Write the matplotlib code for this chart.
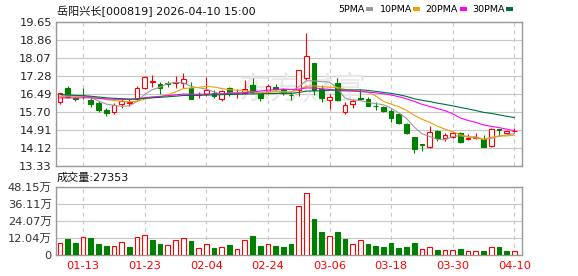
import numpy as np
import matplotlib
matplotlib.use("Agg")
import matplotlib.pyplot as plt
from matplotlib.patches import Rectangle

# trading days shown (2026)
dates = ['01-08', '01-09', '01-12', '01-13', '01-14', '01-15', '01-16', '01-19', '01-20', '01-21',
         '01-22', '01-23', '01-26', '01-27', '01-28', '01-29', '01-30', '02-02', '02-03', '02-04',
         '02-05', '02-06', '02-09', '02-10', '02-11', '02-12', '02-13', '02-24', '02-25', '02-26',
         '02-27', '03-02', '03-03', '03-04', '03-05', '03-06', '03-09', '03-10', '03-11', '03-12',
         '03-13', '03-16', '03-17', '03-18', '03-19', '03-20', '03-23', '03-24', '03-25', '03-26',
         '03-27', '03-30', '03-31', '04-01', '04-02', '04-03', '04-07', '04-08', '04-09', '04-10']

opens = [16.15, 16.75, 16.30, 16.46, 16.24, 16.11, 15.79, 15.71, 16.06, 16.08,
         16.27, 16.77, 17.03, 16.93, 16.98, 16.97, 16.99, 16.74, 16.43, 16.48,
         16.55, 16.26, 16.74, 16.53, 16.55, 16.88, 16.52, 16.62, 16.78, 16.70,
         16.46, 16.67, 17.18, 17.87, 16.70, 16.21, 16.96, 15.71, 16.04, 16.30,
         16.26, 15.98, 15.93, 15.74, 15.60, 15.17, 14.59, 14.29, 14.18, 14.87,
         14.55, 14.62, 14.77, 14.50, 14.57, 14.50, 14.22, 14.94, 14.77, 14.86]
highs = [16.52, 16.85, 16.36, 16.75, 16.33, 16.20, 15.89, 16.08, 16.26, 16.25,
         16.83, 17.27, 17.34, 17.02, 17.05, 17.28, 17.40, 17.03, 16.59, 17.25,
         16.66, 16.66, 16.78, 16.70, 17.11, 17.18, 16.55, 16.93, 16.93, 16.74,
         16.59, 17.53, 19.18, 17.87, 16.89, 16.48, 17.18, 16.13, 16.28, 16.70,
         16.37, 16.14, 15.96, 15.84, 15.64, 15.20, 14.62, 14.30, 15.09, 14.91,
         14.79, 14.84, 14.84, 14.72, 14.80, 14.69, 15.01, 14.94, 14.88, 15.01]
lows = [16.06, 16.33, 16.20, 16.27, 15.93, 15.71, 15.54, 15.63, 15.89, 15.95,
        16.20, 16.73, 16.81, 16.48, 16.78, 16.74, 16.74, 16.26, 16.30, 16.40,
        16.30, 16.18, 16.40, 16.30, 16.48, 16.55, 16.20, 16.55, 16.66, 16.45,
        16.23, 16.42, 17.10, 16.45, 16.15, 15.82, 16.18, 15.61, 15.89, 16.23,
        15.96, 15.79, 15.71, 15.27, 15.17, 14.73, 13.91, 14.00, 14.10, 14.43,
        14.43, 14.55, 14.33, 14.47, 14.50, 14.18, 14.18, 14.66, 14.72, 14.84]
closes = [16.52, 16.37, 16.28, 16.44, 16.06, 15.79, 15.67, 16.02, 16.20, 16.16,
          16.75, 17.24, 17.06, 16.75, 16.95, 17.00, 17.15, 16.27, 16.45, 16.66,
          16.40, 16.64, 16.52, 16.55, 16.70, 16.59, 16.30, 16.84, 16.70, 16.52,
          16.45, 17.53, 18.16, 16.67, 16.33, 16.36, 16.23, 15.99, 16.18, 16.26,
          15.96, 15.95, 15.74, 15.45, 15.20, 14.76, 14.06, 14.27, 14.84, 14.55,
          14.69, 14.79, 14.40, 14.58, 14.60, 14.18, 14.94, 14.90, 14.86, 14.88]
# closes before the window, only used to start the moving averages
prior_closes = [16.95, 16.90, 16.85, 16.80, 16.78, 16.72, 16.70, 16.68, 16.65, 16.67,
                16.40, 16.30, 16.22, 16.18, 16.25, 16.20, 16.28, 16.30, 16.22, 16.25,
                16.25, 16.30, 16.35, 16.28, 16.37, 16.40, 16.45, 16.48, 16.40]

# volume in 万手
volumes = [8.5, 11.0, 8.5, 12.4, 11.7, 7.8, 6.2, 6.2, 8.9, 5.5,
           12.4, 14.5, 10.3, 7.6, 6.9, 10.3, 12.2, 9.6, 4.8, 7.6,
           4.8, 5.5, 6.9, 4.1, 10.3, 13.8, 6.2, 7.6, 6.2, 5.5,
           7.6, 34.9, 43.77, 25.5, 16.5, 13.5, 16.5, 11.0, 8.0, 10.8,
           7.6, 6.2, 5.5, 8.3, 4.8, 5.5, 8.3, 3.9, 6.0, 3.4,
           3.2, 3.2, 4.1, 2.5, 2.5, 2.8, 6.0, 6.0, 2.8, 2.74]

price_ticks = [13.33, 14.12, 14.91, 15.70, 16.49, 17.28, 18.07, 18.86, 19.65]
vol_ticks = [0, 12.04, 24.07, 36.11, 48.15]
vol_tick_labels = ['0', '12.04万', '24.07万', '36.11万', '48.15万']
date_labels = ['01-13', '01-23', '02-04', '02-24', '03-06', '03-18', '03-30', '04-10']

ma_periods = [5, 10, 20, 30]
ma_names = ['5PMA', '10PMA', '20PMA', '30PMA']
ma_colors = ['#9b9b9b', '#f0a000', '#ff00ff', '#00703c']

title = '岳阳兴长[000819] 2026-04-10 15:00'
last_volume = 27353

RED = '#ff0000'
GREEN = '#008000'
GRID = '#c8c8c8'
FRAME = '#999999'
CJK = ['DejaVu Sans', 'Noto Sans CJK SC']
LW = 0.8

n = len(closes)
x = np.arange(n)
o = np.array(opens)
c = np.array(closes)
h = np.array(highs)
l = np.array(lows)

# candle colour: close vs open, ties go by previous close
prev = np.concatenate([[prior_closes[-1]], c[:-1]])
up = np.where(c != o, c > o, c >= prev)
vol_up = c >= prev

fig = plt.figure(figsize=(5.78, 2.76), dpi=100)
W, H = 578, 276
ax = fig.add_axes([56 / W, 1 - 166 / H, 466 / W, 144 / H])
axv = fig.add_axes([56 / W, 1 - 255 / H, 466 / W, 68 / H])

tick_pos = [dates.index(d) for d in date_labels]

for a, yt in ((ax, price_ticks), (axv, vol_ticks)):
    a.set_xlim(-0.52, 60.0)
    a.set_ylim(yt[0], yt[-1])
    a.set_xticks(tick_pos)
    a.set_yticks(yt)
    a.tick_params(length=0)
    for s in a.spines.values():
        s.set_color(FRAME)
        s.set_linewidth(1.0)
    a.grid(axis='y', color=GRID, lw=LW)
    a.grid(axis='x', color=GRID, lw=LW, ls=(0, (3.5, 3.5)))
    a.set_axisbelow(True)

# price panel
ax.set_yticklabels(['%.2f' % t for t in price_ticks], fontsize=8.2, color='#222222')
ax.tick_params(axis='y', pad=3)
ax.set_xticklabels([])

ax.text(31.5, 16.62, '东方财富', fontsize=23, color='#e8e8e8', ha='center', va='center',
        family=['Noto Sans CJK SC'], zorder=1)

# wicks then bodies
ax.vlines(x, l, h, colors=np.where(up, RED, GREEN), lw=LW, zorder=2)
body_lo = np.minimum(o, c)
body_h = np.abs(c - o)
ax.bar(x[up], body_h[up], bottom=body_lo[up], width=0.6, facecolor='white',
       edgecolor=RED, linewidth=LW, zorder=3)
ax.bar(x[~up], body_h[~up], bottom=body_lo[~up], width=0.6, facecolor=GREEN,
       edgecolor=GREEN, linewidth=LW, zorder=3)

# moving averages
allc = np.array(prior_closes + closes)
k = len(prior_closes)
for p, col in zip(ma_periods, ma_colors):
    ma = np.array([allc[k + i - p + 1:k + i + 1].mean() for i in range(n)])
    ax.plot(x, ma, color=col, lw=LW, zorder=4)

# volume panel
axv.set_yticklabels(vol_tick_labels, fontsize=8.2, color='#333333', family=CJK)
axv.tick_params(axis='y', pad=3)
v = np.array(volumes)
axv.bar(x[vol_up], v[vol_up], width=0.62, facecolor='white', edgecolor=RED,
        linewidth=LW, zorder=3)
axv.bar(x[~vol_up], v[~vol_up], width=0.62, facecolor=GREEN, edgecolor=GREEN,
        linewidth=LW, zorder=3)
axv.set_xticklabels(date_labels, fontsize=8.2, color=RED)
axv.tick_params(axis='x', pad=4)

# header texts
fig.text(57 / W, 1 - 11 / H, title, fontsize=8.0, family=CJK, va='center', ha='left', color='#111111')
fig.text(57 / W, 1 - 178 / H, '成交量:%d' % last_volume, fontsize=8.0, family=CJK,
         va='center', ha='left', color='#111111')

# legend: label then a small colour block
lx = [338, 380, 425, 472]
bx = [366, 413, 460, 506]
for tx, sx, name, col in zip(lx, bx, ma_names, ma_colors):
    fig.text(tx / W, 1 - 9 / H, name, fontsize=6.8, family=CJK, va='center', ha='left')
    fig.add_artist(Rectangle((sx / W, 1 - 11 / H), 7 / W, 4 / H,
                             transform=fig.transFigure, facecolor=col, edgecolor='none'))

fig.savefig('out.png', dpi=100)
